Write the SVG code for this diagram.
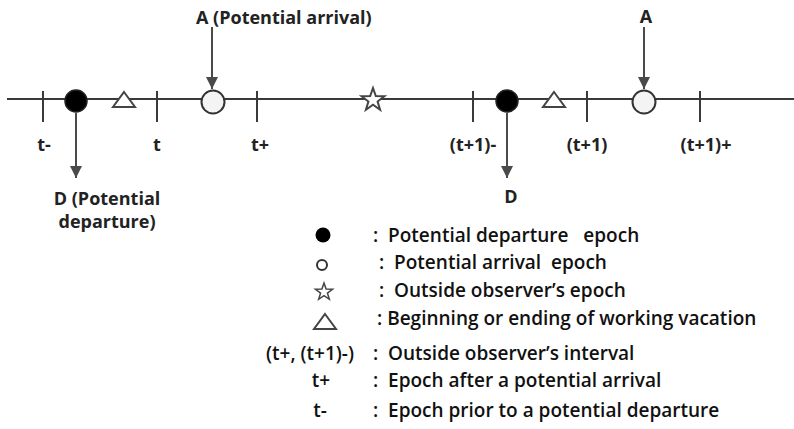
<svg xmlns="http://www.w3.org/2000/svg" width="794" height="429" viewBox="0 0 794 429">
<style>
.ln{stroke:#3a3a3a;stroke-width:2;fill:none}
.tk{stroke:#3a3a3a;stroke-width:2}
.ar{stroke:#4a4a4a;stroke-width:2;fill:none}
.lbl{font-family:"Open Sans","Liberation Sans",sans-serif;font-weight:bold;font-size:18px;fill:#222}
.lg{font-family:"Open Sans","Liberation Sans",sans-serif;font-weight:600;font-size:19px;fill:#111;white-space:pre}
.fc{fill:#000;stroke:#222;stroke-width:1.5}
.oc{fill:#f4f4f4;stroke:#333;stroke-width:2}
.sh{fill:#fff;stroke:#444;stroke-width:2}
</style>
<defs>
<marker id="ah" viewBox="0 0 10 10" refX="10" refY="5" markerWidth="6" markerHeight="6.5" orient="auto" markerUnits="strokeWidth">
<path d="M0,0 L10,5 L0,10 z" fill="#4a4a4a"/>
</marker>
<polygon id="star" points="0,-12 2.8,-3.9 11.4,-3.7 4.6,1.5 7.1,9.7 0,4.8 -7.1,9.7 -4.6,1.5 -11.4,-3.7 -2.8,-3.9"/>
</defs>
<rect width="794" height="429" fill="#fff"/>

<g id="timeline">
<line class="ln" x1="7" y1="99" x2="794" y2="99"/>
<line class="tk" x1="43" y1="91" x2="43" y2="122"/>
<line class="tk" x1="157" y1="91" x2="157" y2="122"/>
<line class="tk" x1="257" y1="91" x2="257" y2="122"/>
<line class="tk" x1="473" y1="91" x2="473" y2="122"/>
<line class="tk" x1="587" y1="91" x2="587" y2="122"/>
<line class="tk" x1="700" y1="91" x2="700" y2="122"/>
</g>

<g id="ticklabels">
<text class="lbl" x="44" y="151" text-anchor="middle">t-</text>
<text class="lbl" x="157" y="151" text-anchor="middle">t</text>
<text class="lbl" x="260" y="151" text-anchor="middle">t+</text>
<text class="lbl" x="473" y="151" text-anchor="middle">(t+1)-</text>
<text class="lbl" x="587" y="151" text-anchor="middle">(t+1)</text>
<text class="lbl" x="706" y="151" text-anchor="middle">(t+1)+</text>
</g>

<g id="connectors">
<line class="ar" x1="212" y1="27" x2="212" y2="89" marker-end="url(#ah)"/>
<line class="ar" x1="76" y1="113" x2="76" y2="178" marker-end="url(#ah)"/>
<line class="ar" x1="644" y1="27" x2="644" y2="89" marker-end="url(#ah)"/>
<line class="ar" x1="507" y1="113" x2="507" y2="178" marker-end="url(#ah)"/>
</g>

<g id="dep1"><circle class="fc" cx="76" cy="101" r="11"/></g>
<g id="tri1"><polygon class="sh" points="124,92 135,107 113,107"/></g>
<g id="arr1"><circle class="oc" cx="213" cy="102" r="11.5"/></g>
<g id="obs"><use href="#star" class="sh" x="373" y="100"/></g>
<g id="dep2"><circle class="fc" cx="507" cy="101" r="11"/></g>
<g id="tri2"><polygon class="sh" points="554,92 565,107 543,107"/></g>
<g id="arr2"><circle class="oc" cx="644" cy="102" r="11.5"/></g>

<g id="labelA1"><text class="lbl" x="196" y="24">A (Potential arrival)</text></g>
<g id="labelA2"><text class="lbl" x="646" y="23" text-anchor="middle">A</text></g>
<g id="labelD1"><text class="lbl" x="107" y="205" text-anchor="middle">D (Potential</text><text class="lbl" x="107" y="228" text-anchor="middle">departure)</text></g>
<g id="labelD2"><text class="lbl" x="511" y="203" text-anchor="middle">D</text></g>

<g id="legend">
<circle cx="323" cy="235" r="7.5" fill="#000"/>
<text class="lg" x="373" y="242">:  Potential departure   epoch</text>
<circle cx="322" cy="265" r="5" fill="none" stroke="#333" stroke-width="2"/>
<text class="lg" x="379" y="269">:  Potential arrival  epoch</text>
<use href="#star" class="sh" transform="translate(324,292) scale(0.75)"/>
<text class="lg" x="379" y="297">:  Outside observer’s epoch</text>
<polygon class="sh" points="325,314 336,329 314,329"/>
<text class="lg" x="377" y="325">: Beginning or ending of working vacation</text>
<text class="lg" x="310" y="360" text-anchor="middle">(t+, (t+1)-)</text>
<text class="lg" x="373" y="360">:  Outside observer’s interval</text>
<text class="lg" x="321" y="387" text-anchor="middle">t+</text>
<text class="lg" x="373" y="387">:  Epoch after a potential arrival</text>
<text class="lg" x="320" y="417" text-anchor="middle">t-</text>
<text class="lg" x="373" y="417">:  Epoch prior to a potential departure</text>
</g>
</svg>
